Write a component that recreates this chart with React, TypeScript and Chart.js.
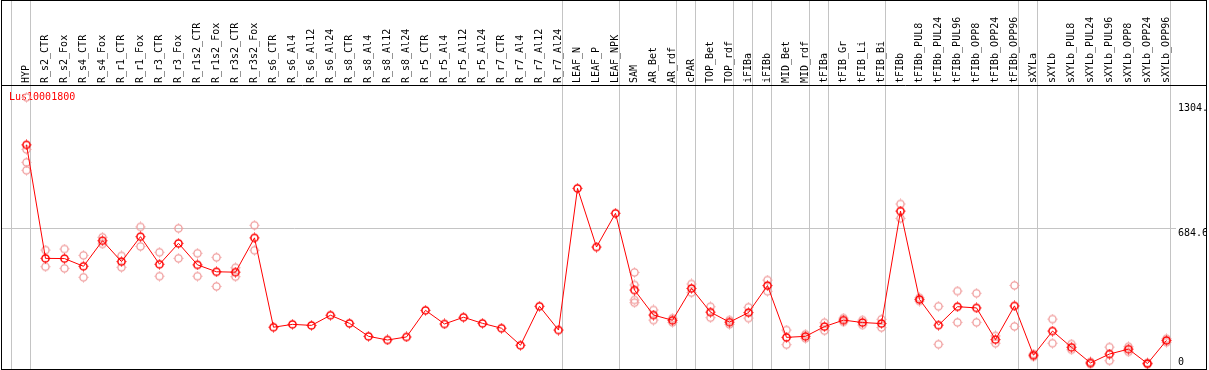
import React, { useEffect, useRef } from 'react';
import { Chart, registerables } from 'chart.js';

Chart.register(...registerables);

const TITLE = 'Lus10001800';

const categories = [
  'HYP', 'R_s2_CTR', 'R_s2_Fox', 'R_s4_CTR', 'R_s4_Fox', 'R_r1_CTR', 'R_r1_Fox', 'R_r3_CTR', 'R_r3_Fox',
  'R_r1s2_CTR', 'R_r1s2_Fox', 'R_r3s2_CTR', 'R_r3s2_Fox', 'R_s6_CTR', 'R_s6_Al4', 'R_s6_Al12', 'R_s6_Al24',
  'R_s8_CTR', 'R_s8_Al4', 'R_s8_Al12', 'R_s8_Al24', 'R_r5_CTR', 'R_r5_Al4', 'R_r5_Al12', 'R_r5_Al24',
  'R_r7_CTR', 'R_r7_Al4', 'R_r7_Al12', 'R_r7_Al24', 'LEAF_N', 'LEAF_P', 'LEAF_NPK', 'SAM', 'AR_Bet', 'AR_rdf',
  'cPAR', 'TOP_Bet', 'TOP_rdf', 'iFIBa', 'iFIBb', 'MID_Bet', 'MID_rdf', 'tFIBa', 'tFIB_Gr', 'tFIB_Li', 'tFIB_Bi',
  'tFIBb', 'tFIBb_PUL8', 'tFIBb_PUL24', 'tFIBb_PUL96', 'tFIBb_OPP8', 'tFIBb_OPP24', 'tFIBb_OPP96', 'sXYLa',
  'sXYLb', 'sXYLb_PUL8', 'sXYLb_PUL24', 'sXYLb_PUL96', 'sXYLb_OPP8', 'sXYLb_OPP24', 'sXYLb_OPP96',
];

const means = [
  1094, 535, 534, 496, 622, 519, 642, 506, 609, 503, 469, 467, 636,
  196, 210, 205, 255, 215, 151, 133, 148, 279, 212, 245, 215, 191, 107, 299, 182,
  880, 591, 757,
  379, 256, 230, 387, 270, 221, 268, 401, 146, 151, 199, 231, 219, 214,
  768, 333, 206, 297, 291, 135, 301,
  58, 177, 97, 20, 64, 88, 17, 131,
];

const replicates: number[][] = [
  [1328, 1072, 1008, 969], [576, 494], [581, 486], [550, 442], [639, 606], [547, 491], [690, 594],
  [565, 447], [683, 535], [560, 447], [540, 397], [489, 445], [698, 575],
  [], [], [], [], [], [], [], [], [], [], [], [], [], [], [], [],
  [], [], [],
  [466, 404, 330, 317], [281, 231], [240, 220], [409, 366], [297, 243], [231, 210], [294, 241],
  [428, 373], [182, 110], [161, 141], [218, 179], [241, 222], [231, 207], [235, 194],
  [803, 732], [341, 325], [299, 112], [374, 220], [363, 220], [153, 117], [402, 200],
  [64, 51], [236, 117], [113, 85], [25, 15], [98, 31], [100, 75], [21, 13], [139, 122],
];

// index of the last category in each group (-1 = before the first)
const groupEnds = [-1, 0, 28, 31, 34, 35, 37, 38, 39, 41, 42, 45, 52, 53, 60];

const yTickValues = [1304, 684.6, 0];
const yTickLabels = ['1304.', '684.6', '0'];
const gridValues = [684.6];

const FONT = '10px "DejaVu Sans Mono", monospace';

function makeMarker(color: string, lw: number): HTMLCanvasElement {
  const c = document.createElement('canvas');
  c.width = 11;
  c.height = 11;
  const g = c.getContext('2d')!;
  g.strokeStyle = color;
  g.fillStyle = color;
  g.lineWidth = lw;
  g.beginPath();
  g.arc(5.5, 5.5, 3.6, 0, Math.PI * 2);
  g.stroke();
  g.fillRect(5, 0.5, 1, 1);
  g.fillRect(5, 9.5, 1, 1);
  g.fillRect(0.5, 5, 1, 1);
  g.fillRect(9.5, 5, 1, 1);
  return c;
}

const decorPlugin = {
  id: 'decor',
  beforeDatasetsDraw(chart: any) {
    const { ctx, chartArea: a, scales } = chart;
    const x = scales.x;
    const y = scales.y;
    ctx.save();
    ctx.strokeStyle = '#c4c4c4';
    ctx.lineWidth = 1;
    groupEnds.forEach((g) => {
      const px = Math.floor(x.getPixelForValue(g + 4 / 19)) + 0.5;
      ctx.beginPath();
      ctx.moveTo(px, 0);
      ctx.lineTo(px, a.bottom);
      ctx.stroke();
    });
    gridValues.forEach((v) => {
      const py = Math.round(y.getPixelForValue(v)) + 0.5;
      ctx.beginPath();
      ctx.moveTo(a.left, py);
      ctx.lineTo(a.right - 30, py);
      ctx.stroke();
    });
    ctx.fillStyle = '#ff0000';
    ctx.font = FONT;
    ctx.textAlign = 'left';
    ctx.textBaseline = 'middle';
    ctx.fillText(TITLE, a.left + 8, a.top + 11);
    ctx.restore();
  },
  afterDraw(chart: any) {
    const { ctx, chartArea: a, scales } = chart;
    const x = scales.x;
    const y = scales.y;
    ctx.save();
    ctx.font = FONT;
    ctx.fillStyle = '#000';
    ctx.textAlign = 'left';
    ctx.textBaseline = 'middle';
    categories.forEach((lab, i) => {
      const px = x.getPixelForValue(i);
      ctx.save();
      ctx.translate(px - 0.5, a.top - 3);
      ctx.rotate(-Math.PI / 2);
      ctx.fillText(lab, 0, 0);
      ctx.restore();
    });
    ctx.save();
    ctx.beginPath();
    ctx.rect(a.left, a.top, a.right - a.left, a.bottom - a.top);
    ctx.clip();
    ctx.textBaseline = 'alphabetic';
    yTickValues.forEach((v, k) => {
      const py = y.getPixelForValue(v);
      const by = py + 12 < a.bottom ? py + 8.5 : py - 2;
      ctx.fillText(yTickLabels[k], a.right - 28, by);
    });
    ctx.restore();
    ctx.strokeStyle = '#000';
    ctx.lineWidth = 1;
    ctx.strokeRect(a.left + 0.5, 0.5, a.right - a.left, a.bottom);
    ctx.beginPath();
    ctx.moveTo(a.left, a.top - 0.5);
    ctx.lineTo(a.right + 1, a.top - 0.5);
    ctx.stroke();
    ctx.restore();
  },
};

export default function App() {
  const ref = useRef<HTMLCanvasElement | null>(null);

  useEffect(() => {
    if (!ref.current) return;
    const redMarker = makeMarker('#ff0000', 1.5);
    const pinkMarker = makeMarker('#f09c9c', 1.3);
    const meanPoints = means.map((v, i) => ({ x: i, y: v }));
    const repPoints = replicates.flatMap((arr, i) => arr.map((v) => ({ x: i, y: v })));

    const chart = new Chart(ref.current, {
      type: 'line',
      data: {
        datasets: [
          {
            type: 'line',
            label: 'mean',
            data: meanPoints,
            borderColor: '#ff0000',
            borderWidth: 1,
            pointStyle: redMarker as any,
            pointRadius: 4,
            fill: false,
            tension: 0,
            order: 0,
          },
          {
            type: 'scatter',
            label: 'replicates',
            data: repPoints,
            pointStyle: pinkMarker as any,
            pointRadius: 4,
            showLine: false,
            order: 1,
          } as any,
        ],
      },
      options: {
        animation: false,
        responsive: false,
        events: [],
        layout: { autoPadding: false, padding: { left: 1, right: 3, top: 86, bottom: 1 } },
        plugins: { legend: { display: false }, tooltip: { enabled: false } },
        scales: {
          x: { type: 'linear', display: false, min: -25.5 / 19, max: 1179.5 / 19 },
          y: { type: 'linear', display: false, min: -9.85, max: 1383.95 },
        },
      },
      plugins: [decorPlugin],
    });
    return () => chart.destroy();
  }, []);

  return (
    <div style={{ position: 'fixed', left: 0, top: 0, width: 1209, height: 370, background: '#fff' }}>
      <canvas ref={ref} width={1209} height={370} style={{ display: 'block' }} />
    </div>
  );
}
